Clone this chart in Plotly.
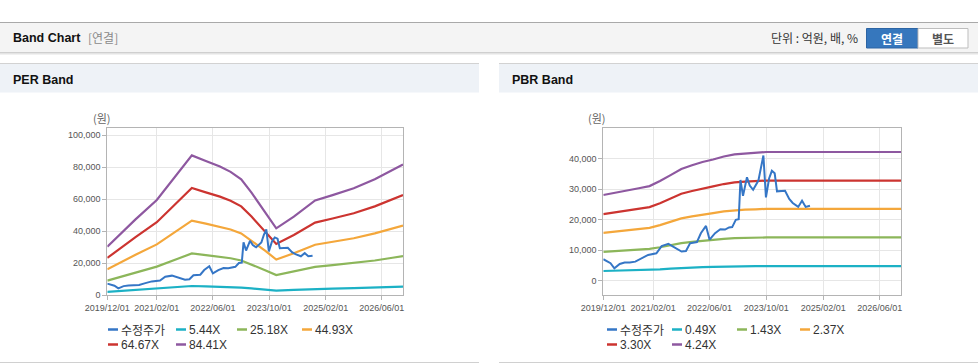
import plotly.graph_objects as go

W, H = 978, 364

# ---------------- data ----------------
# PER band
per_dates = ["2019-12-01", "2020-04-01", "2020-08-01", "2021-02-01", "2021-08-01",
             "2021-12-01", "2022-04-01", "2022-08-01", "2022-11-01", "2023-02-01",
             "2023-05-01", "2023-09-01", "2023-12-01", "2024-05-01", "2024-11-01",
             "2025-04-01", "2025-10-01", "2026-04-01", "2026-09-01", "2026-12-01"]
per_5_44 = [1948, 2513, 3046, 3830, 4885, 5625, 5396, 5173, 4961, 4662,
            4124, 3318, 2687, 3155, 3808, 4026, 4298, 4662, 5032, 5255]
per_25_18 = [9014, 11633, 14101, 17727, 22612, 26036, 24979, 23946, 22964, 21579,
             19086, 15360, 12439, 14604, 17626, 18633, 19892, 21579, 23292, 24324]
per_44_93 = [16085, 20758, 25161, 31631, 40347, 46458, 44571, 42728, 40976, 38505,
             34057, 27407, 22195, 26059, 31451, 33248, 35495, 38505, 41560, 43402]
per_64_67 = [23152, 29878, 36215, 45528, 58074, 66869, 64153, 61501, 58979, 55422,
             49020, 39449, 31947, 37509, 45269, 47856, 51089, 55422, 59820, 62471]
per_84_41 = [30219, 38997, 47270, 59425, 75800, 87280, 83735, 80274, 76982, 72339,
             63983, 51490, 41699, 48958, 59087, 62463, 66684, 72339, 78079, 81540]
per_names = ["5.44X", "25.18X", "44.93X", "64.67X", "84.41X"]

# PBR band
pbr_dates = ["2019-12-01", "2020-04-01", "2020-07-01", "2020-10-01", "2021-01-01",
             "2021-04-01", "2021-07-01", "2021-10-01", "2022-01-01", "2022-04-01",
             "2022-07-01", "2022-10-01", "2023-01-01", "2023-04-01", "2023-07-01",
             "2023-10-01", "2026-12-01"]
pbr_0_49 = [3247, 3340, 3432, 3502, 3582, 3773, 3998, 4230, 4368, 4496,
            4588, 4704, 4784, 4819, 4842, 4871, 4871]
pbr_1_43 = [9477, 9747, 10017, 10219, 10455, 11011, 11669, 12344, 12748, 13120,
            13389, 13727, 13963, 14064, 14131, 14216, 14216]
pbr_2_37 = [15706, 16154, 16602, 16936, 17327, 18249, 19339, 20458, 21129, 21745,
            22190, 22750, 23141, 23309, 23420, 23560, 23560]
pbr_3_30 = [21869, 22493, 23117, 23582, 24126, 25410, 26928, 28486, 29420, 30278,
            30898, 31677, 32221, 32456, 32611, 32805, 32805]
pbr_4_24 = [28098, 28900, 29701, 30299, 31000, 32648, 34598, 36600, 37800, 38902,
            39699, 40700, 41399, 41700, 41900, 42150, 42150]
pbr_names = ["0.49X", "1.43X", "2.37X", "3.30X", "4.24X"]

# adjusted price (수정주가), shared by both charts
price_dates = ["2019-12-01", "2020-02-01", "2020-03-05", "2020-04-20", "2020-06-01",
               "2020-07-15", "2020-09-01", "2020-10-25", "2020-12-20", "2021-03-01",
               "2021-04-15", "2021-06-12", "2021-08-10", "2021-10-03", "2021-11-10",
               "2021-12-15", "2022-02-12", "2022-03-18", "2022-05-01", "2022-06-01",
               "2022-07-18", "2022-09-01", "2022-10-12", "2022-11-15", "2022-12-12",
               "2023-01-12", "2023-02-06", "2023-02-21", "2023-03-15", "2023-04-18",
               "2023-05-12", "2023-06-10", "2023-07-25", "2023-08-15", "2023-09-06",
               "2023-09-28", "2023-10-25", "2023-11-18", "2023-12-12", "2024-01-01",
               "2024-03-10", "2024-04-15", "2024-05-15", "2024-07-01", "2024-08-03",
               "2024-09-03", "2024-10-10"]
price_values = [7100, 5800, 4150, 5550, 6000,
                6000, 6300, 7400, 8500, 9050,
                11400, 12100, 10700, 9600, 9800,
                12300, 12700, 15600, 18000, 13500,
                15600, 16900, 16800, 17500, 17600,
                20000, 20200, 33000, 27800, 33900,
                31200, 29800, 32800, 37400, 41000,
                27300, 33500, 36000, 35200, 29300,
                29500, 26800, 25500, 24200, 26200,
                24200, 24600]
price_name = "수정주가"

x_tickvals = ["2019-12-01", "2021-02-01", "2022-06-01", "2023-10-01", "2025-02-01", "2026-06-01"]
x_ticktext = ["2019/12/01", "2021/02/01", "2022/06/01", "2023/10/01", "2025/02/01", "2026/06/01"]
per_yticks = [0, 20000, 40000, 60000, 80000, 100000]
pbr_yticks = [0, 10000, 20000, 30000, 40000]

# ---------------- style ----------------
band_colors = ["#1cb1c5", "#8cb65a", "#f4a73b", "#cc3430", "#8e58a0"]
price_color = "#3576c6"
FONT = "Arial, 'Liberation Sans', 'Noto Sans CJK KR', sans-serif"
KFONT = "'Noto Sans CJK KR', Arial, sans-serif"


def px(x):
    return x / W


def py(y):
    return 1 - y / H


fig = go.Figure()

per_bands = [per_5_44, per_25_18, per_44_93, per_64_67, per_84_41]
pbr_bands = [pbr_0_49, pbr_1_43, pbr_2_37, pbr_3_30, pbr_4_24]

for vals, name, col in zip(per_bands, per_names, band_colors):
    fig.add_trace(go.Scatter(x=per_dates, y=vals, name=name, mode="lines",
                             line=dict(color=col, width=2.2), xaxis="x", yaxis="y",
                             showlegend=False))
fig.add_trace(go.Scatter(x=price_dates, y=price_values, name=price_name, mode="lines",
                         line=dict(color=price_color, width=2), xaxis="x", yaxis="y",
                         showlegend=False))

for vals, name, col in zip(pbr_bands, pbr_names, band_colors):
    fig.add_trace(go.Scatter(x=pbr_dates, y=vals, name=name, mode="lines",
                             line=dict(color=col, width=2.2), xaxis="x2", yaxis="y2",
                             showlegend=False))
fig.add_trace(go.Scatter(x=price_dates, y=price_values, name=price_name, mode="lines",
                         line=dict(color=price_color, width=2), xaxis="x2", yaxis="y2",
                         showlegend=False))

axis_common = dict(showgrid=True, gridcolor="#e6e6e6", gridwidth=1,
                   showline=True, linecolor="#b4b4b4", linewidth=1, mirror=True,
                   ticks="outside", ticklen=4, tickcolor="#b4b4b4",
                   zeroline=False, fixedrange=True, automargin=False,
                   tickfont=dict(family=FONT, size=9, color="#555555"))

xcommon = dict(axis_common, type="date", range=["2019-12-01", "2026-12-01"],
               tickvals=x_tickvals, ticktext=x_ticktext, tickangle=0)

fig.update_layout(
    width=W, height=H, autosize=False,
    margin=dict(l=0, r=0, t=0, b=0, pad=0, autoexpand=False),
    paper_bgcolor="white", plot_bgcolor="white",
    showlegend=False, hovermode=False,
    xaxis=dict(xcommon, domain=[px(107.3), px(403)], anchor="y"),
    yaxis=dict(axis_common, domain=[py(295), py(128)], anchor="x",
               range=[0, 104400], tickvals=per_yticks, tickformat=","),
    xaxis2=dict(xcommon, domain=[px(603.3), px(901)], anchor="y2"),
    yaxis2=dict(axis_common, domain=[py(295), py(128)], anchor="x2",
                range=[-4600, 50000], tickvals=pbr_yticks, tickformat=","),
)

shapes = []
annotations = []


def rect(x0, y0, x1, y1, fill, line=None, lw=0):
    shapes.append(dict(type="rect", xref="paper", yref="paper",
                       x0=px(x0), x1=px(x1), y0=py(y1), y1=py(y0),
                       fillcolor=fill, line=dict(color=line or fill, width=lw),
                       layer="below"))


def hline(x0, x1, y, color, width=1):
    shapes.append(dict(type="line", xref="paper", yref="paper",
                       x0=px(x0), x1=px(x1), y0=py(y), y1=py(y),
                       line=dict(color=color, width=width), layer="below"))


def text(x, y, s, size=12, color="#222", bold=False, anchor="left", family=KFONT):
    if bold:
        s = "<b>" + s + "</b>"
    annotations.append(dict(xref="paper", yref="paper", x=px(x), y=py(y), text=s,
                            showarrow=False, xanchor=anchor, yanchor="middle",
                            font=dict(family=family, size=size, color=color),
                            borderpad=0))


# header bar
hline(0, W, 22.5, "#a9a9a9", 1)
rect(0, 23, W, 52, "#f4f4f4")
hline(0, W, 52.5, "#cfcfcf", 1)
hline(0, W, 53.5, "#e4e4e4", 1)
hline(0, W, 54.5, "#f1f1f1", 1)
text(12, 38, "Band Chart", size=12.5, color="#111", bold=True, family=FONT)
text(87, 38, "[연결]", size=12, color="#8a8a8a")
text(859, 38, "단위 : 억원, 배, %", size=12, color="#333", anchor="right")
rect(866.5, 28.5, 918, 48, "#3677bd", "#2c64a3", 1)
rect(918, 28.5, 968, 48, "#ffffff", "#bdbdbd", 1)
text(892.3, 38.5, "연결", size=12, color="#ffffff", bold=True, anchor="center")
text(943, 38.5, "별도", size=12, color="#555555", bold=True, anchor="center")

# panels
for (x0, x1, title) in [(0, 479, "PER Band"), (499, W, "PBR Band")]:
    hline(x0, x1, 63.5, "#d2d2d2", 1)
    rect(x0, 64, x1, 92.5, "#eef2f7")
    hline(x0, x1, 362.5, "#d0d0d0", 1)
    text(x0 + 12, 80, title, size=12.5, color="#111", bold=True, family=FONT)

text(92, 118, "(원)", size=11, color="#666")
text(587, 118, "(원)", size=11, color="#666")

# custom compact legends
per_entries = [(price_name, price_color)] + list(zip(per_names, band_colors))
pbr_entries = [(price_name, price_color)] + list(zip(pbr_names, band_colors))
per_slots = [(108, 329.5), (176, 329.5), (237, 329.5), (302, 329.5), (108, 344.5), (176, 344.5)]
pbr_slots = [(607, 329.5), (672, 329.5), (737, 329.5), (800, 329.5), (607, 344.5), (672, 344.5)]
for entries, slots in [(per_entries, per_slots), (pbr_entries, pbr_slots)]:
    for (name, col), (sx, sy) in zip(entries, slots):
        hline(sx, sx + 10, sy, col, 2.5)
        text(sx + 12, sy, name, size=12, color="#333",
             family=FONT if name != price_name else KFONT)

fig.update_layout(shapes=shapes, annotations=annotations)

fig.write_html("out.html", config={"displayModeBar": False},
               post_script="document.body.style.margin='0';document.body.style.overflow='hidden';")
